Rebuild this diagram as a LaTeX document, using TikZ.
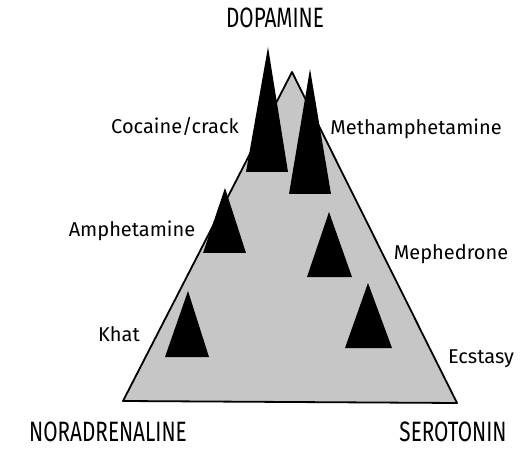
\documentclass[tikz,border=0pt]{standalone}
\usepackage{fontspec}
\setmainfont{Fira Sans}
\newfontfamily\axisfont[FakeStretch=0.74]{Fira Sans}
\usepackage{tikz}
\definecolor{rock}{HTML}{C6C6C6}

\begin{document}
\begin{tikzpicture}[
  x=0.5pt, y=-0.5pt,
  peak/.style={fill=black},
  drug/.style={font=\fontsize{10}{12}\selectfont},
  axis/.style={font=\fontsize{14}{16}\selectfont\axisfont}
]
\useasboundingbox (0,0) rectangle (520,449);
\filldraw[fill=rock, draw=black, line width=0.9pt, line join=round] (292,72) -- (123,401) -- (457,403) -- cycle;
\fill[peak] (268,47) -- (246,172) -- (288,172) -- cycle;
\fill[peak] (310,69) -- (289,194) -- (331,194) -- cycle;
\fill[peak] (225,188) -- (203,253) -- (246,253) -- cycle;
\fill[peak] (329,212) -- (307,277) -- (352,277) -- cycle;
\fill[peak] (188,291) -- (165,357) -- (209,357) -- cycle;
\fill[peak] (368,283) -- (345,348) -- (392,348) -- cycle;
\node[axis] (dopa) at (275,18) {DOPAMINE};
\node[axis] (nora) at (108,432) {NORADRENALINE};
\node[axis] (sero) at (453,432) {SEROTONIN};
\node[drug] (coke) at (175,126) {Cocaine/crack};
\node[drug] (meth) at (416,129) {Methamphetamine};
\node[drug] (amph) at (132,231) {Amphetamine};
\node[drug] (meph) at (451,254) {Mephedrone};
\node[drug] (khat) at (119,334) {Khat};
\node[drug] (xtc) at (481,359) {Ecstasy};
\end{tikzpicture}
\end{document}
